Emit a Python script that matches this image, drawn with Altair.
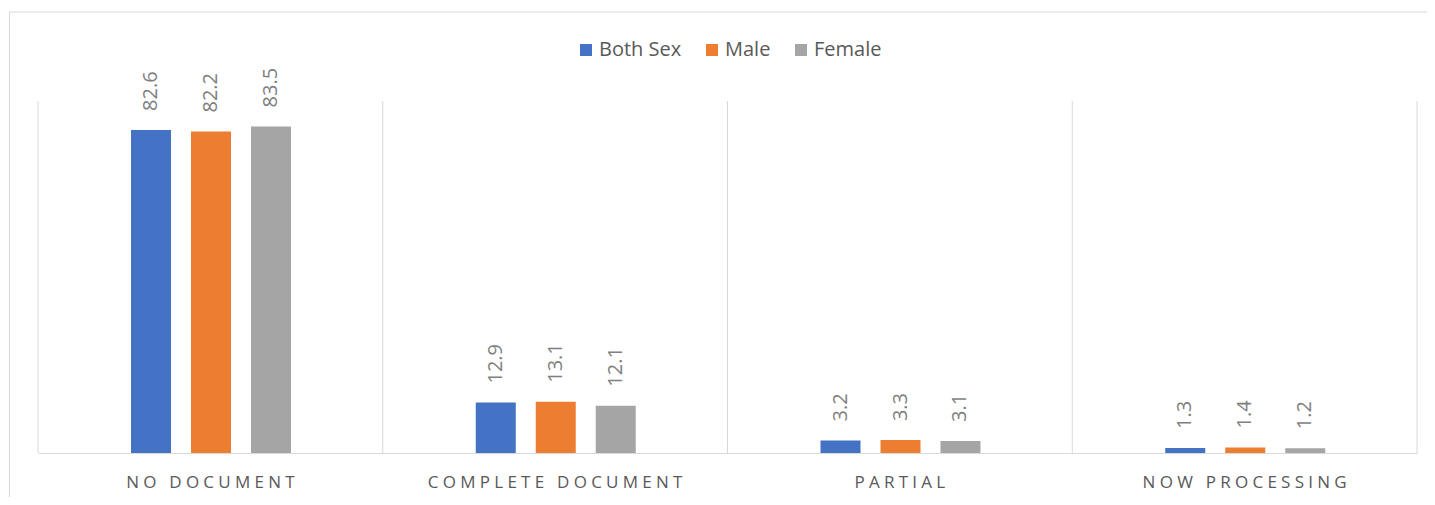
import altair as alt
import pandas as pd

categories = ["NO DOCUMENT", "COMPLETE DOCUMENT", "PARTIAL", "NOW PROCESSING"]
series = ["Both Sex", "Male", "Female"]
both_sex = [82.6, 12.9, 3.2, 1.3]
male = [82.2, 13.1, 3.3, 1.4]
female = [83.5, 12.1, 3.1, 1.2]
colors = ["#4472C4", "#ED7D31", "#A5A5A5"]

rows = []
for s, vals in zip(series, [both_sex, male, female]):
    for c, v in zip(categories, vals):
        rows.append({"category": c, "series": s, "value": v})
df = pd.DataFrame(rows)
cat_df = pd.DataFrame({"category": categories})

W, H = 1379, 352
GRID = "#D9D9D9"
FONT = "Open Sans"

xscale = alt.Scale(domain=categories, paddingInner=0, paddingOuter=0)
x_axis = alt.Axis(
    title=None, labelAngle=0, ticks=False, grid=False,
    domainColor=GRID, domainWidth=1,
    labelFont=FONT, labelFontSize=17, labelColor="#595959", labelPadding=21,
    labelLimit=0,
    labelExpr="join(split(datum.label, ''), '\u2005')",
)
x = alt.X("category:N", sort=categories, scale=xscale, axis=x_axis)
xo = alt.XOffset("series:N", sort=series,
                 scale=alt.Scale(domain=series, range=[93, 253],
                                 paddingInner=0.333, paddingOuter=0))
y = alt.Y("value:Q", scale=alt.Scale(domain=[0, 90]), axis=None)

border = alt.Chart(alt.Data(values=[{"k": 1}])).mark_rect(
    fillOpacity=0, stroke=GRID, strokeWidth=1
).encode(
    x=alt.value(-28.5), x2=alt.value(1400), y=alt.value(-89), y2=alt.value(420)
)

grid = alt.Chart(cat_df).mark_rule(color=GRID, strokeWidth=1).encode(
    x=alt.X("category:N", sort=categories, scale=xscale, axis=x_axis, bandPosition=0),
    y=alt.value(0), y2=alt.value(H),
)
right_edge = alt.Chart(alt.Data(values=[{"k": 1}])).mark_rule(
    color=GRID, strokeWidth=1
).encode(x=alt.value(W), y=alt.value(0), y2=alt.value(H))

bars = alt.Chart(df).mark_bar().encode(
    x=x, xOffset=xo, y=y,
    color=alt.Color(
        "series:N", sort=series,
        scale=alt.Scale(domain=series, range=colors),
        legend=alt.Legend(
            title=None, orient="none", legendX=538, legendY=-61,
            direction="horizontal", symbolType="square", symbolSize=144,
            symbolStrokeWidth=0, labelFont=FONT, labelFontSize=20,
            labelColor="#595959", labelOffset=3, columnPadding=20, padding=0,
        ),
    ),
)

labels = alt.Chart(df).mark_text(
    angle=270, align="left", baseline="middle", dx=19,
    font=FONT, fontSize=20, color="#7F7F7F",
).encode(x=x, xOffset=xo, y=y, text=alt.Text("value:Q", format=".1f"))

chart = alt.layer(border, grid, right_edge, bars, labels).properties(
    width=W, height=H,
    autosize=alt.AutoSizeParams(type="none"),
    padding={"left": 30, "top": 93, "right": 10, "bottom": 44},
).configure_view(stroke=None)

chart.save("out.html", embed_options={"renderer": "svg", "actions": False})
